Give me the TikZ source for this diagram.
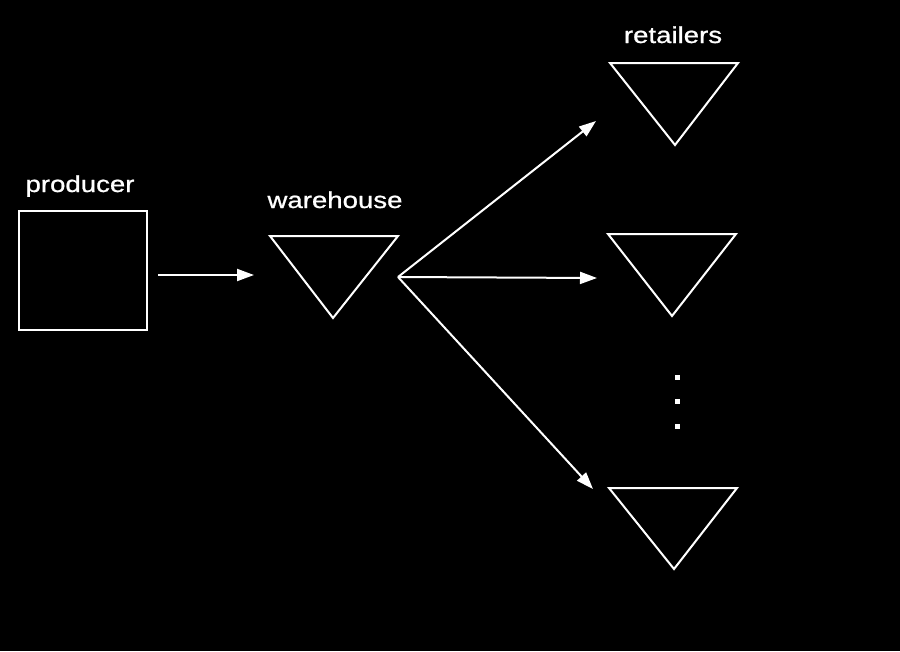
\documentclass[tikz,border=0pt]{standalone}
\usepackage{fontspec}
\setmainfont{Liberation Sans}
\newfontfamily\lblfont[FakeBold=0.8]{Liberation Sans}
\usetikzlibrary{arrows.meta}
\tikzset{
  lbl/.style={text=white, anchor=base, inner sep=0pt, font=\lblfont\fontsize{23}{26}\selectfont},
  shp/.style={draw=white, line width=2pt, line join=miter},
  conn/.style={draw=white, line width=2pt, -{Triangle[length=17pt,width=12pt]}},
  dotsq/.style={fill=white, minimum size=5pt, inner sep=0pt}
}
\newcommand{\wtxt}[1]{\scalebox{1.2}[1]{#1}}
\begin{document}
\begin{tikzpicture}[x=1pt,y=-1pt]
\fill[black] (0,0) rectangle (900,651);
\useasboundingbox (0,0) rectangle (900,651);
% producer
\node[shp, minimum width=128pt, minimum height=119pt, inner sep=0pt, anchor=north west] (prod) at (18,210) {};
\node[lbl] (prodl) at (80,192) {\wtxt{producer}};
% warehouse triangle
\coordinate (wA) at (270,236); \coordinate (wB) at (398,236); \coordinate (wC) at (333,318);
\draw[shp] (wA) -- (wB) -- (wC) -- cycle;
\coordinate (wout) at (398,277);
\coordinate (win) at (254,275);
\coordinate (pout) at (158,275);
\node[lbl] (whl) at (335,208) {\wtxt{warehouse}};
% retailers
\coordinate (r1A) at (610,63); \coordinate (r1B) at (738,63); \coordinate (r1C) at (675,145);
\coordinate (r2A) at (608,234); \coordinate (r2B) at (736,234); \coordinate (r2C) at (672,316);
\coordinate (r3A) at (609,488); \coordinate (r3B) at (737,488); \coordinate (r3C) at (674,569);
\draw[shp] (r1A) -- (r1B) -- (r1C) -- cycle;
\draw[shp] (r2A) -- (r2B) -- (r2C) -- cycle;
\draw[shp] (r3A) -- (r3B) -- (r3C) -- cycle;
\node[lbl] (retl) at (673,43) {\wtxt{retailers}};
\coordinate (t1) at (596,121);
\coordinate (t2) at (597,278);
\coordinate (t3) at (593,489);
% connectors
\draw[conn] (pout) -- (win);
\draw[conn] (wout) -- (t1);
\draw[conn] (wout) -- (t2);
\draw[conn] (wout) -- (t3);
% dots
\node[dotsq] (d1) at (677,377) {};
\node[dotsq] (d2) at (677,401) {};
\node[dotsq] (d3) at (677,426) {};
\end{tikzpicture}
\end{document}
